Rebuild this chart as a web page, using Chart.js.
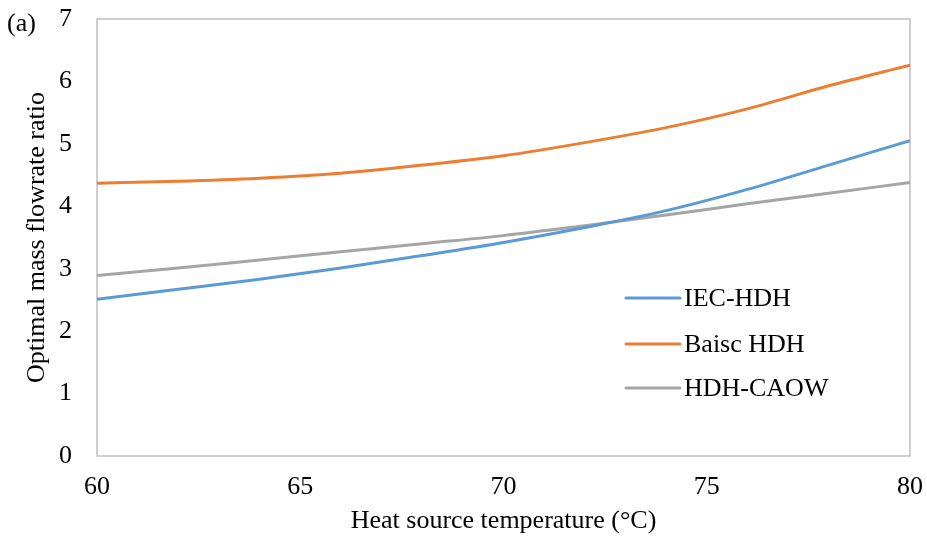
<!DOCTYPE html>
<html>
<head>
<meta charset="utf-8">
<script src="https://cdn.jsdelivr.net/npm/chart.js@4.4.1/dist/chart.umd.min.js"></script>
<style>
  body { margin: 0; background: #fff; }
  #wrap { position: relative; width: 927px; height: 542px; }
  #panel { position: absolute; left: 7px; top: 8px; font: 26px "Liberation Serif", serif; color: #000; }
</style>
</head>
<body>
<div id="wrap">
  <canvas id="chart"></canvas>
  <div id="panel">(a)</div>
</div>
<script>
// Data
const temps = [60, 62, 64, 66, 68, 70, 72, 74, 76, 78, 80];
const iecHdh = [2.51, 2.67, 2.83, 3.01, 3.21, 3.42, 3.66, 3.93, 4.27, 4.66, 5.05];
const basicHdh = [4.37, 4.40, 4.45, 4.53, 4.66, 4.81, 5.02, 5.26, 5.56, 5.93, 6.26];
const hdhCaow = [2.89, 3.01, 3.14, 3.27, 3.40, 3.53, 3.69, 3.86, 4.04, 4.21, 4.38];
const seriesNames = ['IEC-HDH', 'Baisc HDH', 'HDH-CAOW'];
const seriesColors = ['#5b9bd5', '#ed7d31', '#a5a5a5'];

const FONT = '"Liberation Serif", "Times New Roman", serif';
const FONT_SIZE = 26;

function toPoints(ys) {
    return temps.map((t, i) => ({ x: t, y: ys[i] }));
}

// Frame around the plot area
const framePlugin = {
    id: 'frame',
    beforeDatasetsDraw(chart) {
        const { ctx, chartArea: a } = chart;
        ctx.save();
        ctx.strokeStyle = '#bfbfbf';
        ctx.lineWidth = 1.5;
        ctx.strokeRect(a.left, a.top, a.right - a.left, a.bottom - a.top);
        ctx.restore();
    }
};

// Legend drawn inside the plot, lower right
const insideLegend = {
    id: 'insideLegend',
    afterDatasetsDraw(chart) {
        const { ctx } = chart;
        const x0 = 626, x1 = 680, rows = [298, 344, 388];
        ctx.save();
        ctx.font = `${FONT_SIZE}px ${FONT}`;
        ctx.textBaseline = 'middle';
        chart.data.datasets.forEach((ds, i) => {
            ctx.strokeStyle = ds.borderColor;
            ctx.lineWidth = 3;
            ctx.lineCap = 'round';
            ctx.beginPath();
            ctx.moveTo(x0, rows[i]);
            ctx.lineTo(x1, rows[i]);
            ctx.stroke();
            ctx.fillStyle = '#000';
            ctx.fillText(ds.label, x1 + 4, rows[i] + 1);
        });
        ctx.restore();
    }
};

// no extra padding from tick labels, the layout padding sets the plot box
function noScalePadding(scale) {
    scale.paddingTop = 0;
    scale.paddingBottom = 0;
    scale.paddingLeft = 0;
    scale.paddingRight = 0;
}

const datasets = [iecHdh, basicHdh, hdhCaow].map((ys, i) => ({
    label: seriesNames[i],
    data: toPoints(ys),
    borderColor: seriesColors[i],
    backgroundColor: seriesColors[i],
    borderWidth: 3,
    pointRadius: 0,
    cubicInterpolationMode: 'monotone',
    fill: false
}));

new Chart(document.getElementById('chart').getContext('2d'), {
    type: 'line',
    data: { datasets },
    options: {
        responsive: true,
        maintainAspectRatio: false,
        animation: false,
        layout: { padding: { top: 19, right: 17, left: 0, bottom: 0 } },
        plugins: {
            legend: { display: false },
            tooltip: { enabled: false }
        },
        scales: {
            x: {
                type: 'linear',
                min: 60,
                max: 80,
                grid: { display: false, drawTicks: false },
                border: { display: false },
                ticks: { stepSize: 5, padding: 16, color: '#000', font: { family: FONT, size: FONT_SIZE } },
                title: {
                    display: true,
                    text: 'Heat source temperature (°C)',
                    color: '#000',
                    font: { family: FONT, size: FONT_SIZE },
                    padding: { top: 0, bottom: 5 }
                },
                afterFit(scale) { scale.height = 86; noScalePadding(scale); }
            },
            y: {
                min: 0,
                max: 7,
                grid: { display: false, drawTicks: false },
                border: { display: false },
                ticks: { stepSize: 1, padding: 25, color: '#000', font: { family: FONT, size: FONT_SIZE } },
                title: {
                    display: true,
                    text: 'Optimal mass flowrate ratio',
                    color: '#000',
                    font: { family: FONT, size: FONT_SIZE },
                    padding: { top: 22, bottom: 0 }
                },
                afterFit(scale) { scale.width = 97; noScalePadding(scale); }
            }
        }
    },
    plugins: [framePlugin, insideLegend]
});
</script>
</body>
</html>
